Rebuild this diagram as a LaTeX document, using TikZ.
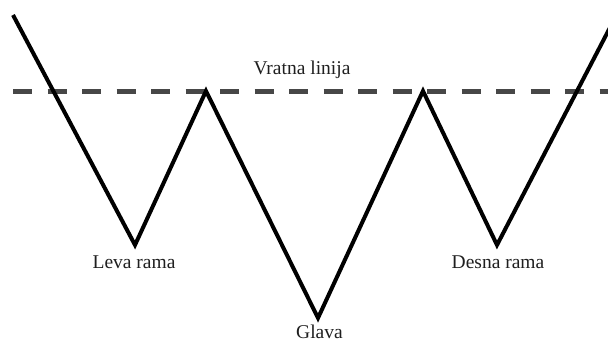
\documentclass[tikz,border=0pt]{standalone}
\usepackage{fontspec}
\setmainfont{Liberation Serif}
\begin{document}
\begin{tikzpicture}[x=1pt,y=-1pt,
  pattern line/.style={line width=4pt,line join=miter,black},
  neckline/.style={line width=5pt,color=black!72,dash pattern=on 19pt off 15.5pt},
  lbl/.style={anchor=base,inner sep=0pt,font=\fontsize{19.5}{22}\selectfont,text=black!88}]
\useasboundingbox (0,0) rectangle (608,343);
\coordinate (s) at (13,15);
\coordinate (t1) at (135,245);
\coordinate (p1) at (206,91);
\coordinate (h) at (318,318);
\coordinate (p2) at (423,91);
\coordinate (t2) at (497,245);
\coordinate (e) at (616,16);
\coordinate (nl) at (13,91);
\coordinate (nr) at (612,91);
\draw[neckline] (nl) -- (nr);
\draw[pattern line] (s) -- (t1) -- (p1) -- (h) -- (p2) -- (t2) -- (e);
\node[lbl] (vl) at (302,74) {Vratna linija};
\node[lbl] (lr) at (134,268) {Leva rama};
\node[lbl] (dr) at (498,268) {Desna rama};
\node[lbl] (gl) at (319.5,338) {Glava};
\end{tikzpicture}
\end{document}
